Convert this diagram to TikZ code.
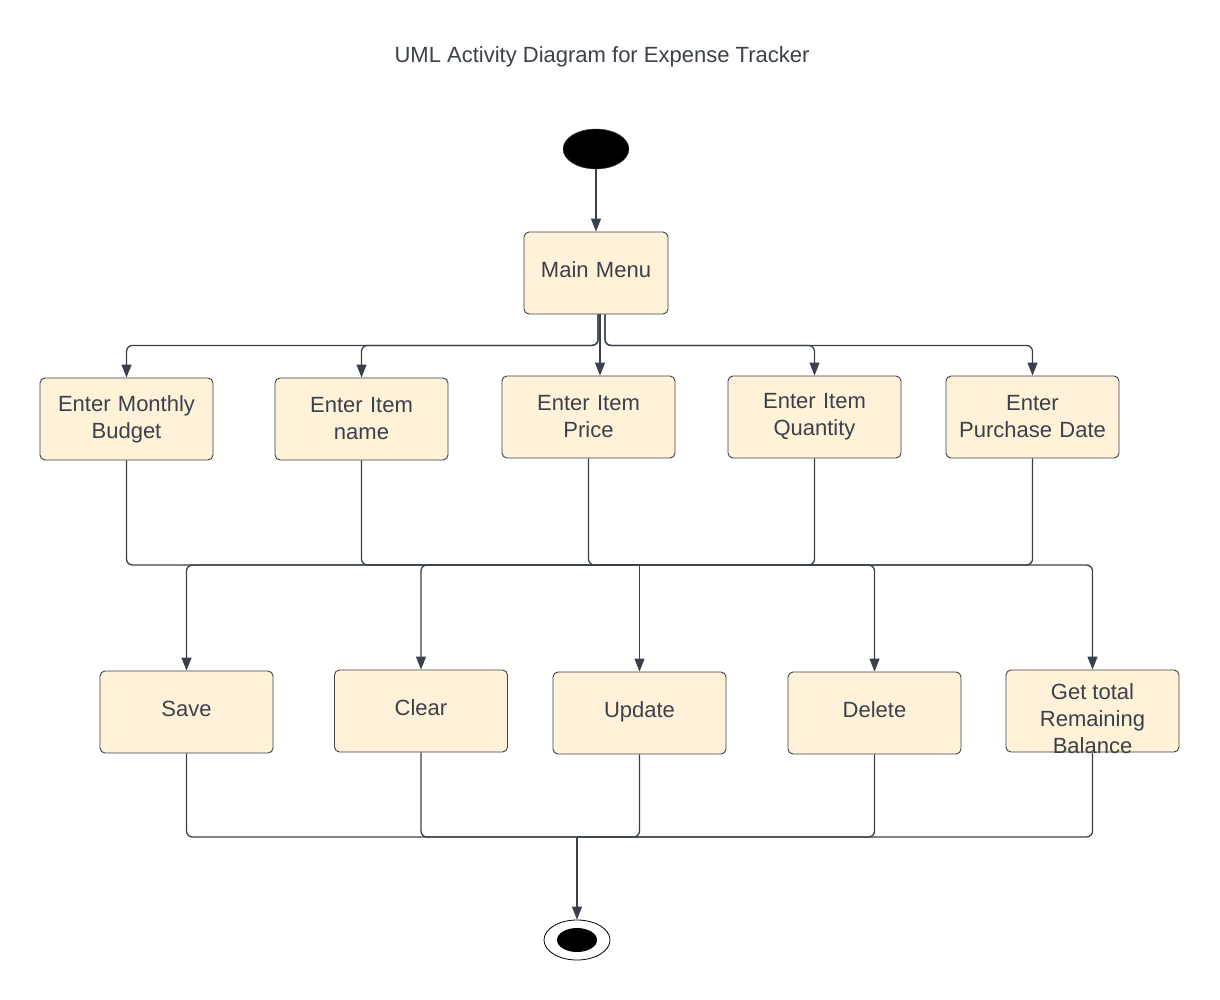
\documentclass[tikz,border=0pt]{standalone}
\usepackage{fontspec}
\setmainfont{Liberation Sans}
\usetikzlibrary{arrows.meta,shapes.geometric}
\definecolor{ln}{HTML}{3A414A}
\definecolor{bx}{HTML}{FFF2D9}
\begin{document}
\begin{tikzpicture}[x=1pt,y=-1pt,
  act/.style={draw=ln, fill=bx, line width=0.9pt, rounded corners=5pt, minimum width=173pt, minimum height=82pt, inner sep=0pt, text width=170pt, align=center, font=\fontsize{22}{27}\selectfont, text=ln},
  one/.style={text depth=7pt},
  conn/.style={draw=ln, line width=1.3pt, rounded corners=6pt},
  arr/.style={conn, -{Triangle[length=13pt,width=10pt]}}]
\useasboundingbox[fill=white] (0,0) rectangle (1220,1000);
\node[font=\fontsize{22}{27}\selectfont, text=ln] (title) at (602,57) {UML Activity Diagram for Expense Tracker};
\node[ellipse, fill=black, draw=ln, minimum width=66pt, minimum height=40pt, inner sep=0pt] (start) at (596,149) {};
\node[act, one, minimum width=144pt, text width=140pt] (mm) at (596,273) {Main Menu};
\node[act] (b1) at (126.5,419) {Enter Monthly\\Budget};
\node[act] (b2) at (361.5,419) {Enter Item\\name};
\node[act] (b3) at (588.5,417) {Enter Item\\Price};
\node[act] (b4) at (814.5,417) {Enter Item\\Quantity};
\node[act] (b5) at (1032.5,417) {Enter\\Purchase Date};
\node[act, one] (s) at (186.5,712) {Save};
\node[act, one] (c) at (421,711) {Clear};
\node[act, one] (u) at (639.5,713) {Update};
\node[act, one] (d) at (874.5,713) {Delete};
\node[act] (g) at (1092.5,711) {};
\node[font=\fontsize{22}{27}\selectfont, text=ln, align=center, inner sep=0pt] (gt) at ([yshift=-8pt]g.center) {Get total\\Remaining\\Balance};
\node[ellipse, draw=black, line width=0.8pt, fill=white, minimum width=66pt, minimum height=40pt, inner sep=0pt] (end) at (577,940) {};
\node[ellipse, fill=black, minimum width=40pt, minimum height=24pt, inner sep=0pt] (endin) at (577,940) {};
\coordinate (bus) at (639.5,565);
\coordinate (jn) at (577,837);
\draw[arr] (start) -- (mm);
\draw[arr] ([xshift=2pt]mm.south) -- ++(0,31) -| (b1.north);
\draw[arr] ([xshift=2pt]mm.south) -- ++(0,31) -| (b2.north);
\draw[arr] ([xshift=4pt]mm.south) -- ([xshift=11.5pt]b3.north);
\draw[arr] ([xshift=9pt]mm.south) -- ++(0,31) -| (b4.north);
\draw[arr] ([xshift=9pt]mm.south) -- ++(0,31) -| (b5.north);
\foreach \b in {b1,b2,b3,b4,b5} \draw[conn] (\b.south) |- (bus);
\foreach \t in {s,c,d,g} \draw[arr] (bus) -| (\t.north);
\draw[arr] (bus) -- (u.north);
\foreach \t in {s,c,u,d,g} \draw[conn] (\t.south) |- (jn);
\draw[arr] (jn) -- (end.north);
\end{tikzpicture}
\end{document}
